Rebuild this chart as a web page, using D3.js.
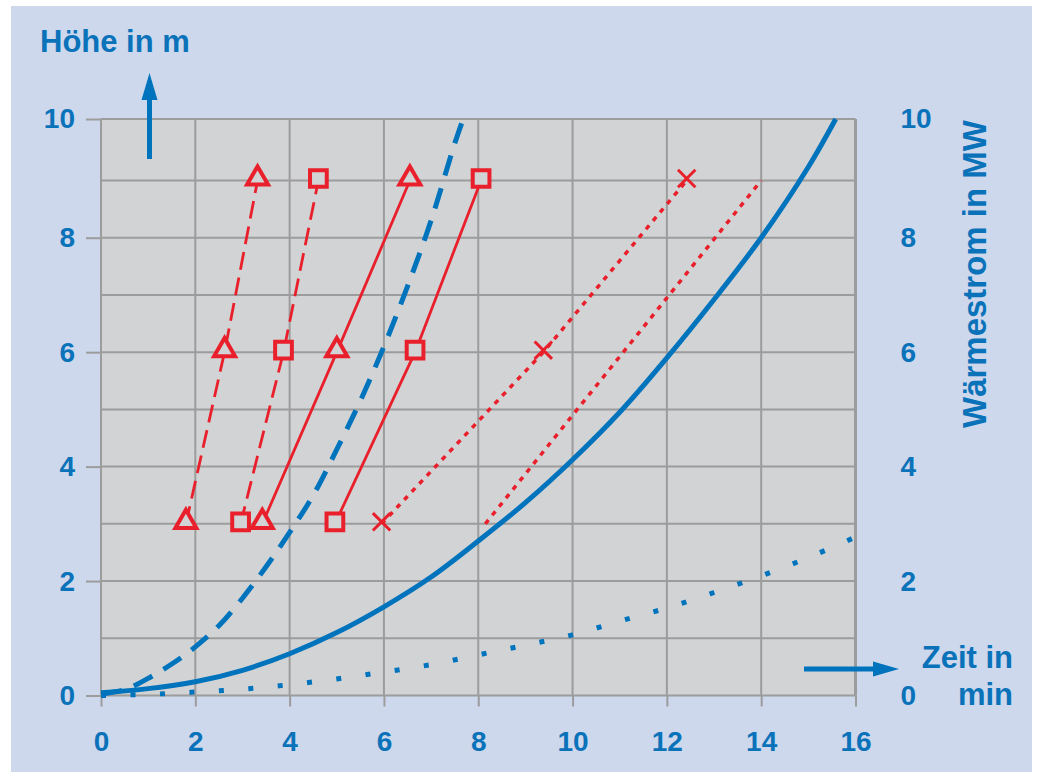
<!DOCTYPE html>
<html><head><meta charset="utf-8">
<script src="https://cdn.jsdelivr.net/npm/d3@7"></script>
<style>
html,body{margin:0;padding:0;background:#fff;}
svg{display:block;font-family:"Liberation Sans",Arial,sans-serif;}
</style></head>
<body>
<svg id="chart" width="1037" height="773"></svg>
<script>
// ---------- data ----------
const xTicks = [0, 2, 4, 6, 8, 10, 12, 14, 16];
const yTicks = [0, 2, 4, 6, 8, 10];
const yGrid  = [0, 1, 2, 3, 4, 5, 6, 7, 8, 9, 10];

// red series: Höhe (m) vs Zeit (min)
const heights = [3, 6, 9];
const dashTriX   = [1.80, 2.62, 3.32];
const dashSqX    = [2.96, 3.87, 4.61];
const solidTriX  = [3.42, 5.00, 6.55];
const solidSqX   = [4.96, 6.66, 8.06];
const dotCrossX  = [5.95, 9.38, 12.42];
const dotPlainX  = [8.15, 14.0];
const dotPlainH  = [3, 9];

// blue series: Wärmestrom (MW) vs Zeit (min)
const solidBlueX = [0, 1, 2, 3, 4, 5, 6, 7, 8, 9, 10, 11, 12, 13, 14, 15, 15.58];
const solidBlueY = [0.05, 0.12, 0.24, 0.44, 0.73, 1.1, 1.55, 2.07, 2.7, 3.37, 4.12, 4.95, 5.9, 6.92, 8.0, 9.22, 10];
const dashBlueX  = [0, 0.5, 1, 1.5, 2, 2.5, 3, 3.5, 4, 4.5, 5, 5.5, 6, 6.5, 7, 7.5, 7.68];
const dashBlueY  = [0.03, 0.1, 0.3, 0.55, 0.85, 1.22, 1.7, 2.25, 2.85, 3.5, 4.3, 5.15, 6.1, 7.15, 8.3, 9.6, 10];
const dotBlueX   = [0, 1, 2, 3, 4, 5, 6, 7, 8, 9, 10, 11, 12, 13, 14, 15, 16];
const dotBlueY   = [0, 0.02, 0.06, 0.11, 0.19, 0.29, 0.41, 0.54, 0.71, 0.88, 1.06, 1.3, 1.53, 1.8, 2.09, 2.41, 2.77];

const labelLeft  = "Höhe in m";
const labelRight = "Wärmestrom in MW";
const labelX1 = "Zeit in";
const labelX2 = "min";

// ---------- styles ----------
const BLUE = "#0a72b9";
const LINEBLUE = "#0073bd";
const RED = "#e9202b";
const GRID = "#9c9c9c";

const svg = d3.select("#chart");
svg.append("rect").attr("x", 11).attr("y", 6).attr("width", 1021).attr("height", 766).attr("fill", "#cdd8ed");

const x = d3.scaleLinear().domain([0, 16]).range([101, 855.5]);
const y = d3.scaleLinear().domain([0, 9, 10]).range([695.5, 180.5, 119]);

// plot area
svg.append("rect")
  .attr("x", x(0)).attr("y", y(10))
  .attr("width", x(16) - x(0)).attr("height", y(0) - y(10))
  .attr("fill", "#d2d3d5");

// grid
const g = svg.append("g");
g.selectAll("line.h").data(yGrid).join("line")
  .attr("x1", x(0)).attr("x2", x(16))
  .attr("y1", d => y(d)).attr("y2", d => y(d))
  .attr("stroke", GRID).attr("stroke-width", 2);
g.selectAll("line.v").data(xTicks).join("line")
  .attr("x1", d => x(d)).attr("x2", d => x(d))
  .attr("y1", y(10)).attr("y2", y(0))
  .attr("stroke", GRID).attr("stroke-width", d => d === 16 ? 3 : 2);

// axes
const axL = svg.append("g").attr("transform", `translate(${x(0)},0)`)
  .call(d3.axisLeft(y).tickValues(yTicks).tickSize(15).tickPadding(11).tickFormat(d3.format("d")));
const axB = svg.append("g").attr("transform", `translate(0,${y(0)})`)
  .call(d3.axisBottom(x).tickValues(xTicks).tickSize(11).tickPadding(25).tickFormat(d3.format("d")));
const axR = svg.append("g").attr("transform", `translate(${x(16)},0)`)
  .call(d3.axisRight(y).tickValues(yTicks).tickSize(0).tickPadding(45).tickFormat(d3.format("d")));
[axL, axB, axR].forEach(a => {
  a.select(".domain").remove();
  a.selectAll(".tick line").attr("stroke", GRID).attr("stroke-width", 2);
  a.selectAll(".tick text").attr("fill", BLUE).attr("font-size", 28).attr("font-weight", "bold")
    .attr("font-family", "'Liberation Sans', Arial, sans-serif");
});

// blue curves
const line = d3.line().x(d => x(d[0])).y(d => y(d[1])).curve(d3.curveCatmullRom.alpha(0.5));
const zip = (a, b) => a.map((v, i) => [v, b[i]]);

svg.append("path").datum(zip(dotBlueX, dotBlueY)).attr("d", line)
  .attr("fill", "none").attr("stroke", LINEBLUE).attr("stroke-width", 5)
  .attr("stroke-dasharray", "5,24.5");
svg.append("path").datum(zip(solidBlueX, solidBlueY)).attr("d", line)
  .attr("fill", "none").attr("stroke", LINEBLUE).attr("stroke-width", 5);
svg.append("path").datum(zip(dashBlueX, dashBlueY)).attr("d", line)
  .attr("fill", "none").attr("stroke", LINEBLUE).attr("stroke-width", 5)
  .attr("stroke-dasharray", "21,13");

// red series
const redSeries = [
  { xs: dashTriX,  hs: heights, dash: "18,8", marker: d3.symbolTriangle, size: 190, mw: 4 },
  { xs: dashSqX,   hs: heights, dash: "18,8", marker: d3.symbolSquare,   size: 280, mw: 4 },
  { xs: solidTriX, hs: heights, dash: null,   marker: d3.symbolTriangle, size: 190, mw: 4 },
  { xs: solidSqX,  hs: heights, dash: null,   marker: d3.symbolSquare,   size: 280, mw: 4 },
  { xs: dotCrossX, hs: heights, dash: "5,6",  marker: d3.symbolTimes,    size: 200, mw: 3 },
  { xs: dotPlainX, hs: dotPlainH, dash: "5,6", marker: null }
];
const straight = d3.line().x(d => x(d[0])).y(d => y(d[1]));
redSeries.forEach(s => {
  const pts = zip(s.xs, s.hs);
  svg.append("path").datum(pts).attr("d", straight)
    .attr("fill", "none").attr("stroke", RED)
    .attr("stroke-width", s.dash === "5,6" ? 3.5 : 2.8)
    .attr("stroke-dasharray", s.dash);
  if (s.marker) {
    svg.append("g").selectAll("path").data(pts).join("path")
      .attr("transform", d => `translate(${x(d[0])},${y(d[1]) - 2})`)
      .attr("d", d3.symbol().type(s.marker).size(s.size))
      .attr("fill", s.marker === d3.symbolTimes ? "none" : "#d2d3d5")
      .attr("stroke", RED).attr("stroke-width", s.mw);
  }
});

// axis titles and arrows
svg.append("text").attr("x", 40).attr("y", 52).text(labelLeft)
  .attr("fill", BLUE).attr("font-size", 31).attr("font-weight", "bold");
svg.append("text")
  .attr("transform", `translate(986,274) rotate(-90)`)
  .attr("text-anchor", "middle").text(labelRight)
  .attr("fill", BLUE).attr("font-size", 33).attr("font-weight", "bold");
svg.append("text").attr("x", 1013).attr("y", 668).attr("text-anchor", "end").text(labelX1)
  .attr("fill", BLUE).attr("font-size", 31).attr("font-weight", "bold");
svg.append("text").attr("x", 1013).attr("y", 705).attr("text-anchor", "end").text(labelX2)
  .attr("fill", BLUE).attr("font-size", 31).attr("font-weight", "bold");

// up arrow
svg.append("line").attr("x1", 149.5).attr("x2", 149.5).attr("y1", 159).attr("y2", 96)
  .attr("stroke", LINEBLUE).attr("stroke-width", 5);
svg.append("path").attr("d", "M149.5,73 L157.5,100 L141.5,100 Z").attr("fill", LINEBLUE);
// right arrow
svg.append("line").attr("x1", 804).attr("x2", 876).attr("y1", 669).attr("y2", 669)
  .attr("stroke", LINEBLUE).attr("stroke-width", 5);
svg.append("path").attr("d", "M899,669 L873,661.5 L873,676.5 Z").attr("fill", LINEBLUE);
</script>
</body></html>
